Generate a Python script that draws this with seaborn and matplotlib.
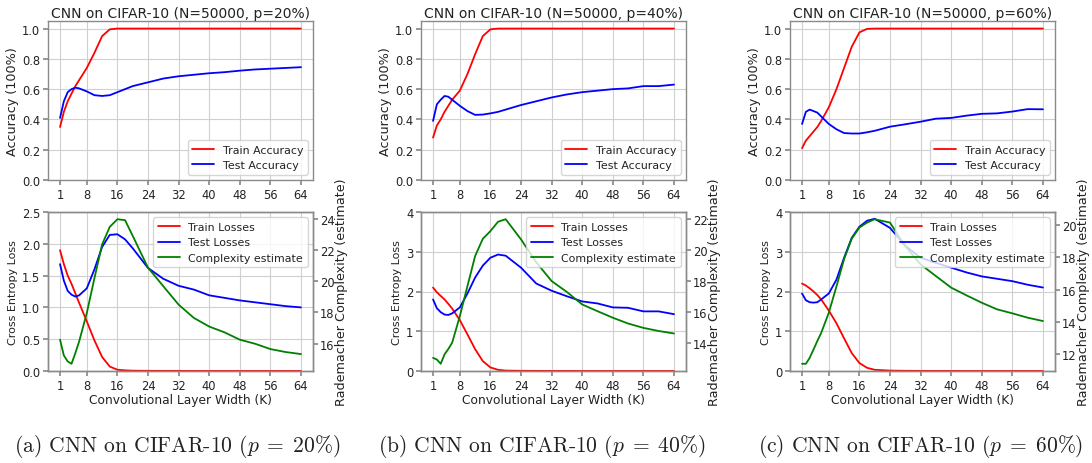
import numpy as np
import pandas as pd
import matplotlib
matplotlib.use("Agg")
import matplotlib.pyplot as plt
import seaborn as sns

# Convolutional layer widths evaluated
widths = [1, 2, 3, 4, 5, 6, 8, 10, 12, 14, 16, 18, 20, 24, 28, 32, 36, 40, 44, 48, 52, 56, 60, 64]
noise_levels = [20, 40, 60]

# ---- p = 20% ----
train_acc_20 = [0.35, 0.45, 0.52, 0.57, 0.62, 0.66, 0.74, 0.84, 0.95, 0.995, 1.0, 1.0, 1.0, 1.0,
                1.0, 1.0, 1.0, 1.0, 1.0, 1.0, 1.0, 1.0, 1.0, 1.0]
test_acc_20 = [0.41, 0.52, 0.58, 0.60, 0.61, 0.605, 0.585, 0.56, 0.555, 0.56, 0.58, 0.60, 0.62, 0.645,
               0.67, 0.685, 0.695, 0.705, 0.712, 0.722, 0.73, 0.735, 0.74, 0.745]
train_loss_20 = [1.9, 1.68, 1.5, 1.37, 1.22, 1.07, 0.78, 0.48, 0.22, 0.07, 0.02, 0.01, 0.005, 0.003,
                 0.002, 0.002, 0.001, 0.001, 0.001, 0.001, 0.001, 0.001, 0.001, 0.001]
test_loss_20 = [1.68, 1.42, 1.26, 1.2, 1.17, 1.19, 1.3, 1.6, 1.95, 2.14, 2.15, 2.07, 1.93, 1.62,
                1.45, 1.34, 1.28, 1.19, 1.15, 1.11, 1.08, 1.05, 1.02, 1.0]
complexity_20 = [16.26, 15.25, 14.87, 14.72, 15.4, 16.15, 17.97, 20.2, 22.35, 23.47, 23.96, 23.9, 22.9, 20.86,
                 19.68, 18.5, 17.65, 17.1, 16.73, 16.26, 16.0, 15.66, 15.47, 15.34]

# ---- p = 40% ----
train_acc_40 = [0.28, 0.36, 0.40, 0.45, 0.49, 0.53, 0.59, 0.70, 0.83, 0.95, 0.995, 1.0, 1.0, 1.0,
                1.0, 1.0, 1.0, 1.0, 1.0, 1.0, 1.0, 1.0, 1.0, 1.0]
test_acc_40 = [0.39, 0.50, 0.53, 0.555, 0.55, 0.53, 0.49, 0.455, 0.43, 0.432, 0.44, 0.45, 0.465, 0.495,
               0.52, 0.545, 0.565, 0.58, 0.59, 0.60, 0.605, 0.62, 0.62, 0.63]
train_loss_40 = [2.1, 1.98, 1.89, 1.8, 1.69, 1.57, 1.28, 0.92, 0.55, 0.25, 0.09, 0.03, 0.01, 0.005,
                 0.003, 0.002, 0.002, 0.001, 0.001, 0.001, 0.001, 0.001, 0.001, 0.001]
test_loss_40 = [1.8, 1.58, 1.48, 1.42, 1.41, 1.45, 1.6, 1.95, 2.35, 2.65, 2.85, 2.93, 2.9, 2.6,
                2.2, 2.02, 1.88, 1.75, 1.7, 1.6, 1.59, 1.5, 1.5, 1.43]
complexity_40 = [13.08, 12.97, 12.7, 13.3, 13.65, 14.05, 15.75, 17.68, 19.6, 20.7, 21.2, 21.8, 21.96, 20.67,
                 19.2, 18.0, 17.3, 16.5, 16.07, 15.65, 15.28, 15.0, 14.8, 14.64]

# ---- p = 60% ----
train_acc_60 = [0.21, 0.26, 0.29, 0.32, 0.35, 0.39, 0.48, 0.60, 0.74, 0.88, 0.975, 0.998, 1.0, 1.0,
                1.0, 1.0, 1.0, 1.0, 1.0, 1.0, 1.0, 1.0, 1.0, 1.0]
test_acc_60 = [0.37, 0.45, 0.465, 0.455, 0.445, 0.42, 0.37, 0.335, 0.31, 0.307, 0.307, 0.315, 0.325, 0.352,
               0.368, 0.385, 0.405, 0.41, 0.425, 0.437, 0.44, 0.452, 0.468, 0.467]
train_loss_60 = [2.2, 2.15, 2.08, 2.0, 1.91, 1.8, 1.52, 1.2, 0.82, 0.45, 0.2, 0.08, 0.03, 0.01,
                 0.005, 0.003, 0.002, 0.002, 0.001, 0.001, 0.001, 0.001, 0.001, 0.001]
test_loss_60 = [1.95, 1.78, 1.73, 1.72, 1.73, 1.8, 1.95, 2.3, 2.85, 3.35, 3.63, 3.78, 3.83, 3.6,
                3.15, 2.85, 2.72, 2.6, 2.48, 2.38, 2.32, 2.26, 2.17, 2.1]
complexity_60 = [11.38, 11.38, 11.75, 12.27, 12.8, 13.3, 14.56, 16.2, 17.9, 19.17, 19.86, 20.17, 20.38, 20.17,
                 18.7, 17.57, 16.84, 16.12, 15.64, 15.18, 14.77, 14.52, 14.25, 14.04]

x_ticks = [1, 8, 16, 24, 32, 40, 48, 56, 64]
loss_tops = [2.5, 4, 4]
caption_letters = ["a", "b", "c"]

panels = [
    (train_acc_20, test_acc_20, train_loss_20, test_loss_20, complexity_20),
    (train_acc_40, test_acc_40, train_loss_40, test_loss_40, complexity_40),
    (train_acc_60, test_acc_60, train_loss_60, test_loss_60, complexity_60),
]

sns.set_theme(style="whitegrid")
plt.rcParams.update({
    "font.family": ["DejaVu Sans"],
    "axes.edgecolor": "#8a8a8a",
    "axes.linewidth": 1.0,
    "grid.color": "#d0d0d0",
    "grid.linewidth": 0.8,
    "xtick.color": "#8a8a8a",
    "ytick.color": "#8a8a8a",
    "xtick.labelcolor": "#222222",
    "ytick.labelcolor": "#222222",
    "axes.labelcolor": "#222222",
    "text.color": "#222222",
    "xtick.bottom": True,
    "ytick.left": True,
    "xtick.major.size": 3.5,
    "ytick.major.size": 3.5,
    "mathtext.fontset": "cm",
})

fig = plt.figure(figsize=(10.92, 4.64), dpi=100)

lefts = [48, 421, 790]
W = 1092.0
H = 464.0
ax_w = 265 / W
ax_h = 159 / H

lw = 1.3
tick_fs = 8.3
legend_fs = 7.9
for i, (tr_acc, te_acc, tr_loss, te_loss, comp) in enumerate(panels):
    left = lefts[i] / W
    ax_top = fig.add_axes([left, 1 - 181 / H, ax_w, ax_h])
    ax_bot = fig.add_axes([left, 1 - 372 / H, ax_w, ax_h])

    df = pd.DataFrame({
        "K": widths, "train_acc": tr_acc, "test_acc": te_acc,
        "train_loss": tr_loss, "test_loss": te_loss, "complexity": comp,
    })

    # accuracy panel
    sns.lineplot(data=df, x="K", y="train_acc", ax=ax_top, color="red", lw=lw, label="Train Accuracy")
    sns.lineplot(data=df, x="K", y="test_acc", ax=ax_top, color="blue", lw=lw, label="Test Accuracy")
    ax_top.set_ylim(0, 1.05)
    ax_top.set_yticks([0.0, 0.2, 0.4, 0.6, 0.8, 1.0])
    ax_top.set_xticks(x_ticks)
    ax_top.set_xlabel("")
    ax_top.set_ylabel("Accuracy (100%)", fontsize=9.2, labelpad=2)
    ax_top.set_title(f"CNN on CIFAR-10 (N=50000, p={noise_levels[i]}%)", fontsize=10.0, pad=3)
    ax_top.tick_params(labelsize=tick_fs, pad=2)
    ax_top.legend(loc="lower right", fontsize=legend_fs, framealpha=0.8, edgecolor="#cccccc")

    # loss panel with complexity on twin axis
    sns.lineplot(data=df, x="K", y="train_loss", ax=ax_bot, color="red", lw=lw, label="Train Losses", legend=False)
    sns.lineplot(data=df, x="K", y="test_loss", ax=ax_bot, color="blue", lw=lw, label="Test Losses", legend=False)
    ax_bot.set_ylim(0, loss_tops[i])
    ax_bot.set_xticks(x_ticks)
    ax_bot.set_xlabel("Convolutional Layer Width (K)", fontsize=8.8, labelpad=1)
    ax_bot.set_ylabel("Cross Entropy Loss", fontsize=8.0, labelpad=3)
    ax_bot.tick_params(labelsize=tick_fs, pad=2)

    ax_r = ax_bot.twinx()
    sns.lineplot(data=df, x="K", y="complexity", ax=ax_r, color="green", lw=lw, label="Complexity estimate", legend=False)
    ax_r.grid(False)
    ax_r.set_ylabel("Rademacher Complexity (estimate)", fontsize=9.2, labelpad=0)
    ax_r.tick_params(axis="y", right=True, labelsize=tick_fs, pad=1.5)
    ax_r.set_xlabel("")

    h1, l1 = ax_bot.get_legend_handles_labels()
    h2, l2 = ax_r.get_legend_handles_labels()
    ax_r.legend(h1 + h2, l1 + l2, loc="upper right", fontsize=legend_fs, framealpha=0.8, edgecolor="#cccccc")

# sub-figure captions
caption_x = [177, 542, 921]
for i in range(3):
    fig.text(caption_x[i] / W, 1 - 447 / H,
             f"({caption_letters[i]}) CNN on CIFAR-10 ($p\\;=\\;{noise_levels[i]}\\%$)",
             ha="center", va="center", fontsize=15.5, family="cmr10")

fig.savefig("out.png", dpi=100)
